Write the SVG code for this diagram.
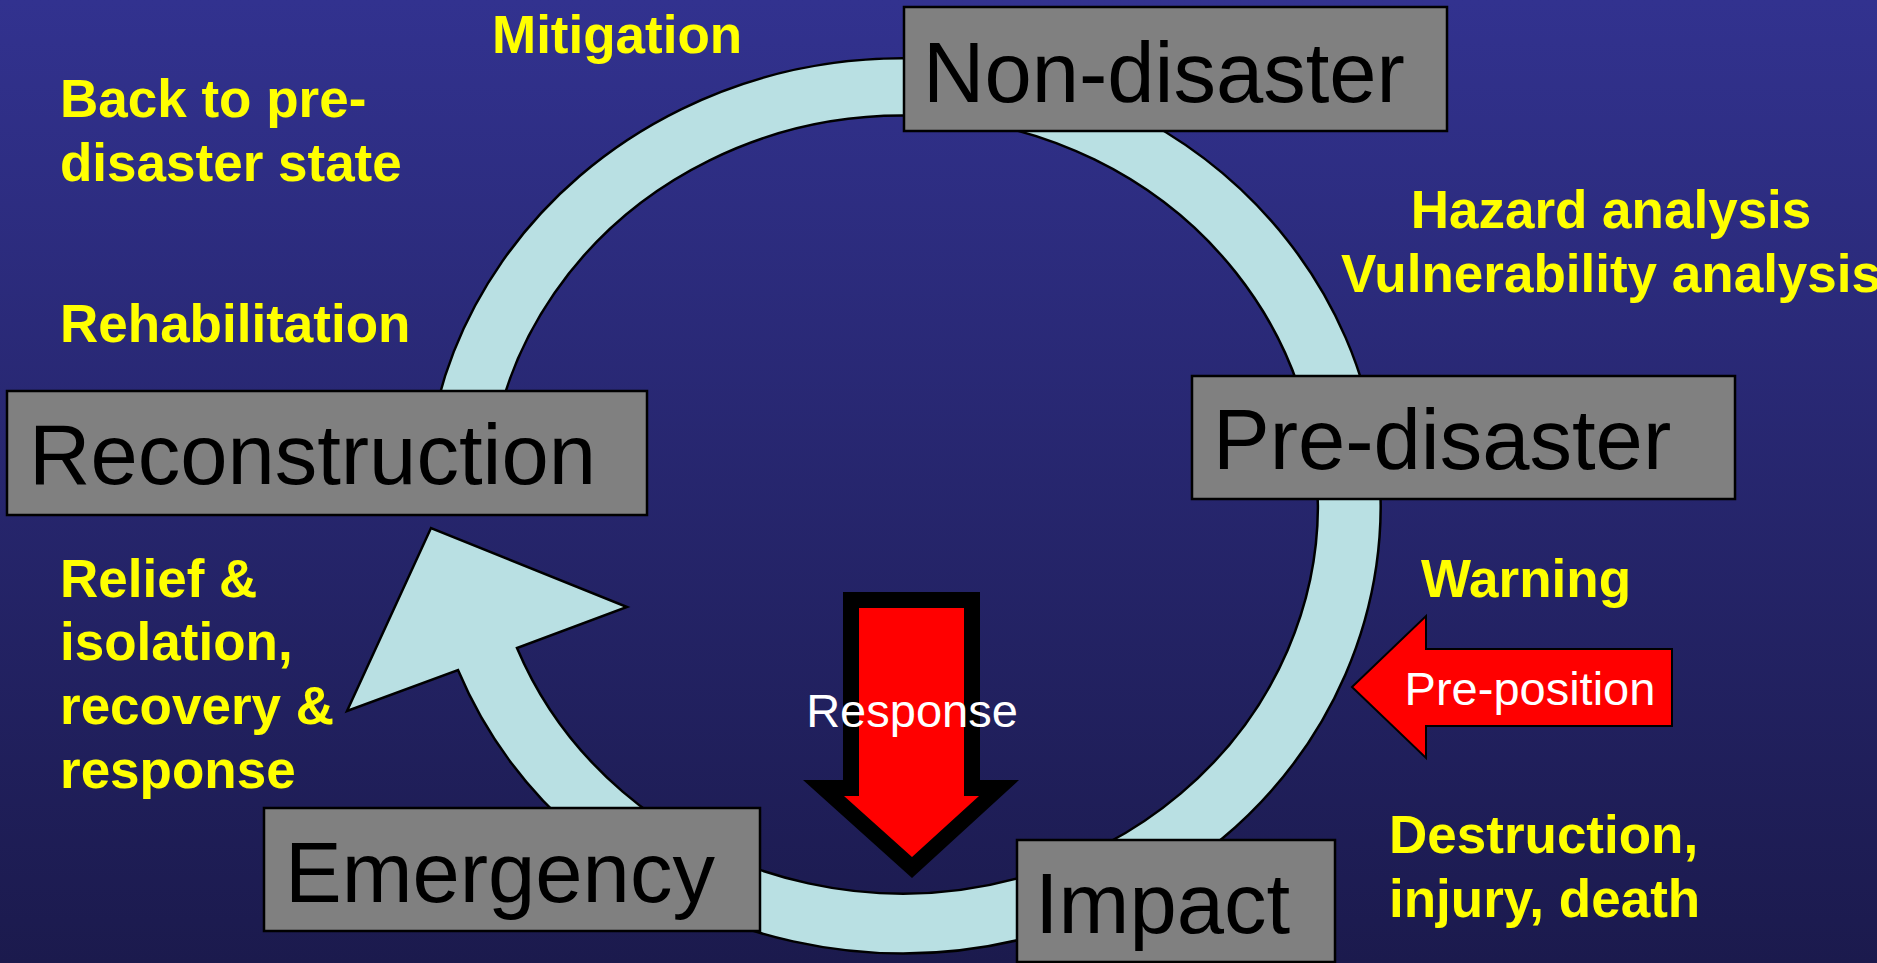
<svg xmlns="http://www.w3.org/2000/svg" width="1877" height="963" viewBox="0 0 1877 963">
  <defs>
    <linearGradient id="bg" x1="0" y1="0" x2="0" y2="1">
      <stop offset="0" stop-color="#32328f"/>
      <stop offset="1" stop-color="#1b1a4d"/>
    </linearGradient>
    <style>
      .box { fill: #808080; stroke: #000; stroke-width: 2.5; }
      .node-label { font-family: "Liberation Sans", Arial, sans-serif; font-size: 85px; fill: #000; }
      .note { font-family: "Liberation Sans", Arial, sans-serif; font-size: 53px; font-weight: bold; fill: #ffff00; }
      .action { font-family: "Liberation Sans", Arial, sans-serif; font-size: 47px; fill: #fff; }
      .band { fill: #b9e0e3; stroke: #000; stroke-width: 2.5; stroke-linejoin: miter; }
    </style>
  </defs>

  <rect x="0" y="0" width="1877" height="963" fill="url(#bg)"/>

  <!-- cycle band: elliptical ring ending in an arrowhead pointing up-left -->
  <g id="connectors">
    <path class="band" d="M 428.4 450 A 478 447.5 0 1 1 458 670 L 347 711 L 431 528 L 627 607 L 517 648 A 415 389 0 1 0 490.9 456.9 Z"/>

    <!-- Response arrow -->
    <g id="response-arrow">
      <polygon fill="#000" points="843,592 980,592 980,780 1019,780 912,878 803,780 843,780"/>
      <polygon fill="#ff0000" points="859,608 964,608 964,796 979,796 912,857 844,796 859,796"/>
      <text class="action" x="912" y="727" text-anchor="middle">Response</text>
    </g>

    <!-- Pre-position arrow -->
    <g id="preposition-arrow">
      <polygon fill="#ff0000" stroke="#000" stroke-width="2" points="1352,687 1426,616 1426,649 1672,649 1672,726 1426,726 1426,758"/>
      <text class="action" x="1530" y="705" text-anchor="middle">Pre-position</text>
    </g>
  </g>

  <g id="node-non-disaster">
    <rect class="box" x="904" y="7" width="543" height="124"/>
    <text class="node-label" x="923" y="102">Non-disaster</text>
  </g>

  <g id="node-pre-disaster">
    <rect class="box" x="1192" y="376" width="543" height="123"/>
    <text class="node-label" x="1213" y="469">Pre-disaster</text>
  </g>

  <g id="node-impact">
    <rect class="box" x="1017" y="840" width="318" height="122"/>
    <text class="node-label" x="1035" y="933">Impact</text>
  </g>

  <g id="node-emergency">
    <rect class="box" x="264" y="808" width="496" height="123"/>
    <text class="node-label" x="285" y="902">Emergency</text>
  </g>

  <g id="node-reconstruction">
    <rect class="box" x="7" y="391" width="640" height="124"/>
    <text class="node-label" x="29" y="484">Reconstruction</text>
  </g>

  <!-- phase notes -->
  <g id="notes">
    <text class="note" x="492" y="53">Mitigation</text>
    <text class="note" x="60" y="117">Back to pre-</text>
    <text class="note" x="60" y="181">disaster state</text>
    <text class="note" x="60" y="342">Rehabilitation</text>
    <text class="note" x="1611" y="228" text-anchor="middle">Hazard analysis</text>
    <text class="note" x="1611" y="292" text-anchor="middle">Vulnerability analysis</text>
    <text class="note" x="1421" y="597">Warning</text>
    <text class="note" x="1389" y="853">Destruction,</text>
    <text class="note" x="1389" y="917">injury, death</text>
    <text class="note" x="60" y="597">Relief &amp;</text>
    <text class="note" x="60" y="660">isolation,</text>
    <text class="note" x="60" y="724">recovery &amp;</text>
    <text class="note" x="60" y="788">response</text>
  </g>
</svg>
